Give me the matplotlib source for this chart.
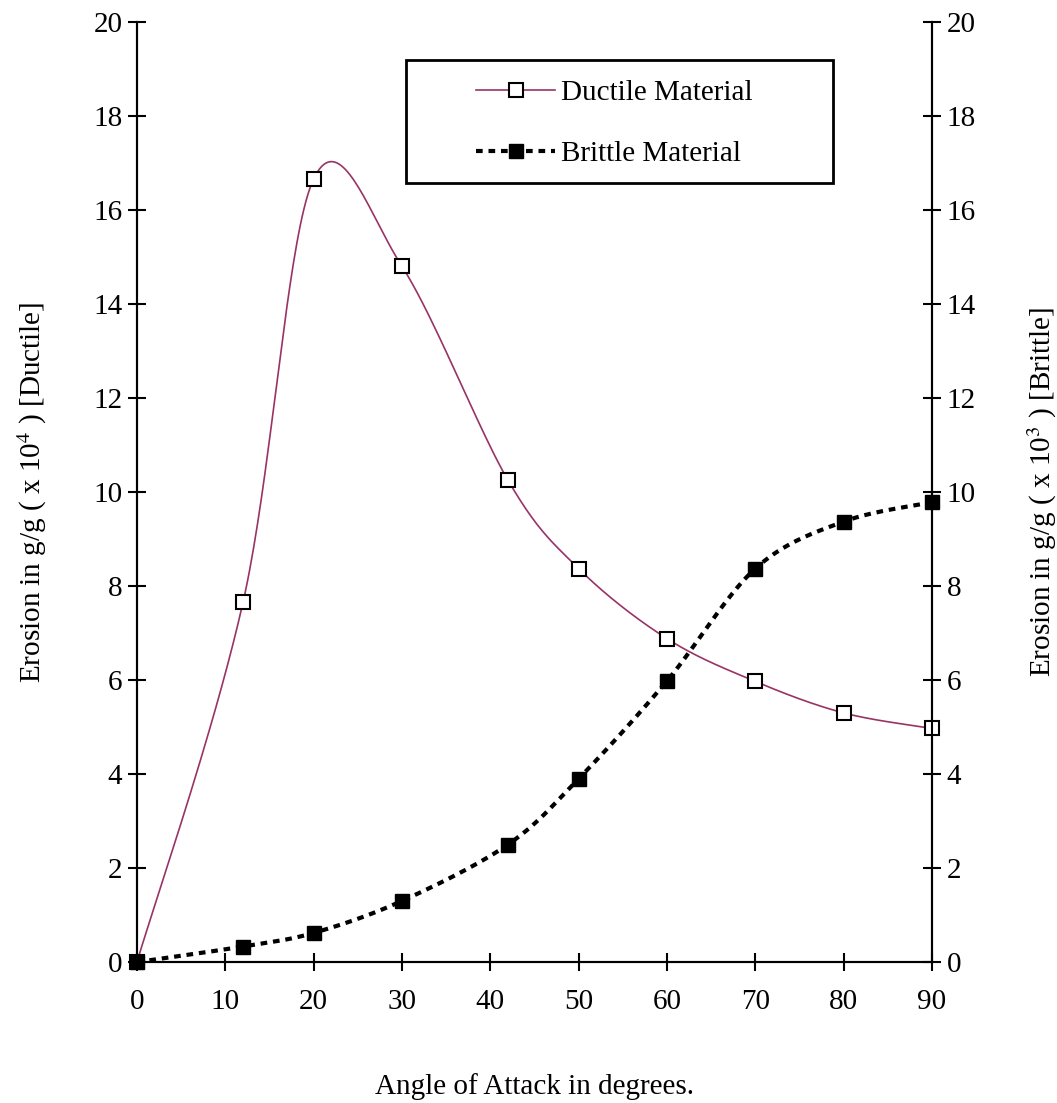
import numpy as np
import matplotlib.pyplot as plt
from matplotlib.lines import Line2D
from matplotlib.patches import Rectangle

# data
angle = [0, 12, 20, 30, 42, 50, 60, 70, 80, 90]
ductile = [0, 7.65, 16.66, 14.8, 10.25, 8.37, 6.88, 5.97, 5.3, 4.97]
brittle = [0, 0.33, 0.62, 1.3, 2.5, 3.9, 5.98, 8.37, 9.37, 9.78]

x_ticks = [0, 10, 20, 30, 40, 50, 60, 70, 80, 90]
y_ticks = [0, 2, 4, 6, 8, 10, 12, 14, 16, 18, 20]

plt.rcParams['font.family'] = 'Liberation Serif'
plt.rcParams['mathtext.fontset'] = 'stix'


def smooth(x, y, n=40):
    # Excel-like bezier smoothing through the points
    p = np.column_stack([x, y]).astype(float)
    out = [p[0]]
    t = np.linspace(0, 1, n)[1:, None]
    for i in range(len(p) - 1):
        prev = p[i - 1] if i > 0 else p[i]
        nxt = p[i + 2] if i + 2 < len(p) else p[i + 1]
        c1 = p[i] + (p[i + 1] - prev) / 6
        c2 = p[i + 1] - (nxt - p[i]) / 6
        seg = ((1 - t) ** 3) * p[i] + 3 * ((1 - t) ** 2) * t * c1 \
            + 3 * (1 - t) * t ** 2 * c2 + t ** 3 * p[i + 1]
        out.extend(seg)
    out = np.array(out)
    return out[:, 0], out[:, 1]


fig = plt.figure(figsize=(10.57, 11.03), dpi=100)
ax = fig.add_axes([0.1296, 0.1278, 0.7521, 0.8523])
ax2 = ax.twinx()

purple = '#993366'
sx, sy = smooth(angle, ductile)
ax.plot(sx, sy, color=purple, lw=1.2, zorder=3)
ax.plot(angle, ductile, ls='none', marker='s', ms=10, mfc='white', mec='black', mew=1.5,
        zorder=4, clip_on=False)

bx, by = smooth(angle, brittle)
ax.plot(bx, by, color='black', lw=3, ls=(0, (1.6, 1.4)), dash_capstyle='butt', zorder=3)
ax.plot(angle, brittle, ls='none', marker='s', ms=10.5, mfc='black', mec='black',
        zorder=4, clip_on=False)

for a in (ax, ax2):
    a.set_xlim(0, 90)
    a.set_ylim(0, 20)
    a.set_yticks(y_ticks)
    a.spines['top'].set_visible(False)
    for s in a.spines.values():
        s.set_linewidth(1.5)
    a.tick_params(direction='inout', length=13, width=1.5, labelsize=21, pad=4)
ax.set_xticks(x_ticks)
ax.tick_params(axis='x', pad=13)

ax.set_xlabel('Angle of Attack in degrees.', fontsize=21, labelpad=42)
ax.set_ylabel(r'Erosion in g/g ( x 10$^{4}$ ) [Ductile]', fontsize=21, labelpad=32)
ax2.set_ylabel(r'Erosion in g/g ( x 10$^{3}$ ) [Brittle]', fontsize=21, labelpad=36)

# legend frame drawn separately, as in the original it is much larger than its content
ax.add_patch(Rectangle((0.3384, 0.8287), 0.5371, 0.1309, transform=ax.transAxes,
                       fill=True, facecolor='white', edgecolor='black', lw=2, zorder=5))
handles = [
    Line2D([], [], color=purple, lw=1.2, marker='s', ms=10, mfc='white', mec='black', mew=1.5),
    Line2D([], [], color='black', lw=3, ls=(0, (1.6, 1.4)), marker='s', ms=10.5, mfc='black', mec='black'),
]
leg = ax.legend(handles, ['Ductile Material', 'Brittle Material'], loc='upper left',
                bbox_to_anchor=(0.427, 0.939), fontsize=21, frameon=False,
                handlelength=2.7, handletextpad=0.2, borderpad=0,
                labelspacing=1.2, borderaxespad=0)
leg.set_zorder(6)

fig.savefig('out.png', dpi=100)
